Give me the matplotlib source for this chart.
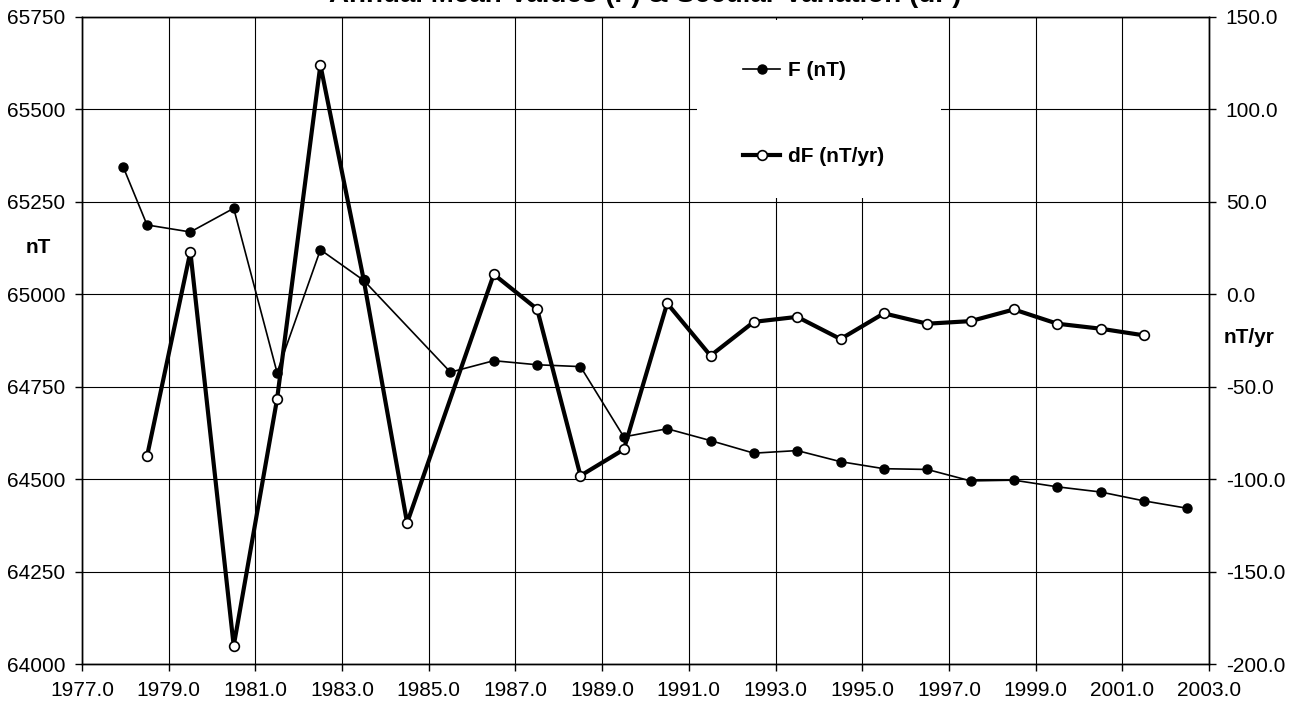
import matplotlib
matplotlib.use('Agg')
import matplotlib.pyplot as plt
from matplotlib.patches import Rectangle
from matplotlib.ticker import MultipleLocator, FormatStrFormatter

plt.rcParams['font.family'] = ['Liberation Sans', 'DejaVu Sans']

# annual mean total field F (nT)
f_years = [1977.95, 1978.5, 1979.5, 1980.5, 1981.5, 1982.5, 1983.5,
           1985.5, 1986.5, 1987.5, 1988.5, 1989.5, 1990.5, 1991.5, 1992.5,
           1993.5, 1994.5, 1995.5, 1996.5, 1997.5, 1998.5, 1999.5, 2000.5,
           2001.5, 2002.5]
f_vals = [65344, 65187, 65168, 65232, 64788, 65120, 65037,
          64789, 64820, 64809, 64804, 64614, 64636, 64604, 64570,
          64577, 64547, 64528, 64526, 64495, 64497, 64479, 64465,
          64441, 64421]

# secular variation dF (nT/yr)
df_years = [1978.5, 1979.5, 1980.5, 1981.5, 1982.5, 1983.5, 1984.5,
            1986.5, 1987.5, 1988.5, 1989.5, 1990.5, 1991.5, 1992.5, 1993.5,
            1994.5, 1995.5, 1996.5, 1997.5, 1998.5, 1999.5, 2000.5, 2001.5]
df_vals = [-87.7, 22.9, -190.2, -56.8, 123.9, 7.6, -123.7,
           10.7, -8.1, -98.2, -84.0, -5.0, -33.3, -15.0, -12.3,
           -24.3, -10.4, -16.0, -14.6, -8.3, -16.0, -18.7, -22.3]

x_ticks = list(range(1977, 2004, 2))

title = 'Annual Mean Values (F) & Secular Variation (dF)'
fs = 15

fig = plt.figure(figsize=(13.02, 7.09), dpi=100)
ax = fig.add_axes([82 / 1302, 1 - 664 / 709, 1127 / 1302, 647.3 / 709])
ax2 = ax.twinx()

# F on top of dF
ax.set_zorder(ax2.get_zorder() + 1)
ax.patch.set_visible(False)

ax2.plot(df_years, df_vals, color='black', lw=3, marker='o', ms=7,
         mfc='white', mec='black', mew=1.2, label='dF (nT/yr)')
ax.plot(f_years, f_vals, color='black', lw=1.2, marker='o', ms=6.5,
        mfc='black', mec='black', label='F (nT)')

ax.set_xlim(1977, 2003)
ax.set_ylim(64000, 65750)
ax2.set_ylim(-200, 150)
ax.set_xticks(x_ticks)
ax.xaxis.set_major_formatter(FormatStrFormatter('%.1f'))
ax.yaxis.set_major_locator(MultipleLocator(250))
ax2.yaxis.set_major_locator(MultipleLocator(50))
ax2.yaxis.set_major_formatter(FormatStrFormatter('%.1f'))

ax2.grid(True, axis='y', color='black', lw=0.8)
ax.grid(True, axis='x', color='black', lw=0.8)
ax.set_axisbelow(True)

for a in (ax, ax2):
    a.tick_params(direction='out', length=5, width=1, pad=7, labelsize=fs,
                  color='black')
    for s in a.spines.values():
        s.set_linewidth(1)
        s.set_color('black')

ax.set_ylabel('nT', rotation=0, fontsize=fs, fontweight='bold',
              ha='center', va='center')
ax.yaxis.set_label_coords(-0.039, 0.6427)
ax2.set_ylabel('nT/yr', rotation=0, fontsize=fs, fontweight='bold',
               ha='center', va='center')
ax2.yaxis.set_label_coords(1.0355, 0.505)

# white legend area hiding the grid
ax.add_patch(Rectangle((0.5457, 0.72), 0.2165, 0.275, transform=ax.transAxes,
                       facecolor='white', edgecolor='none', zorder=5))
h1, l1 = ax.get_legend_handles_labels()
h2, l2 = ax2.get_legend_handles_labels()
leg = ax.legend(h1 + h2, l1 + l2, loc='upper left', bbox_to_anchor=(0.5865, 0.931),
                frameon=False, borderpad=0, borderaxespad=0, labelspacing=3.2,
                handlelength=1.8, handletextpad=0.35,
                prop={'size': fs, 'weight': 'bold'})
leg.set_zorder(6)

fig.text(645.5 / 1302, 1 - 2 / 709, title, ha='center', va='baseline',
         fontsize=20, fontweight='bold')

fig.savefig('out.png', dpi=100)
